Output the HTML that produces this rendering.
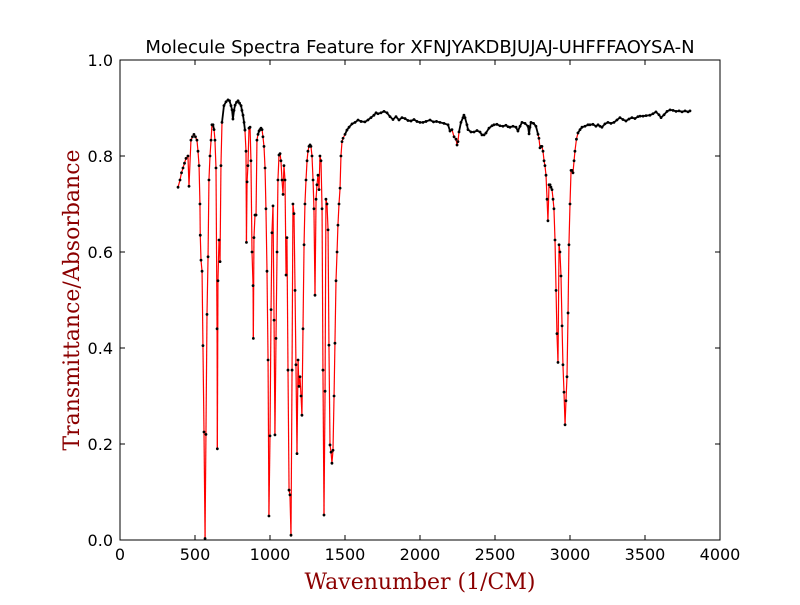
<!DOCTYPE html>
<html><head><meta charset="utf-8"><style>
body{margin:0;background:#fff}
svg text{font-family:"DejaVu Sans","Liberation Sans",sans-serif}
</style></head><body>
<svg width="800" height="600" viewBox="0 0 800 600">
<rect width="800" height="600" fill="#fff"/>
<g id="plot"></g>
<rect x="120" y="60" width="600" height="480" fill="none" stroke="#000" stroke-width="1"/>
<g id="axes"></g>
<text x="420" y="53" font-size="18" text-anchor="middle">Molecule Spectra Feature for XFNJYAKDBJUJAJ-UHFFFAOYSA-N</text>
<text x="420" y="589" font-size="22" fill="#8b0000" text-anchor="middle" style="font-family:'DejaVu Serif','Liberation Serif',serif">Wavenumber (1/CM)</text>
<text x="79" y="300" font-size="22" fill="#8b0000" text-anchor="middle" transform="rotate(-90 79 300)" style="font-family:'DejaVu Serif','Liberation Serif',serif">Transmittance/Absorbance</text>
</svg>
<script>
const xTicks=[0,500,1000,1500,2000,2500,3000,3500,4000];
const yTicks=[0.0,0.2,0.4,0.6,0.8,1.0];
const wavenumbers=[
387,400,410,420,430,440,453,460,473,483,
493,503,513,520,527,533,535,540,547,553,
560,567,573,580,587,593,600,607,613,620,
627,633,640,647,649,653,660,667,673,680,
693,707,720,730,740,747,753,760,767,777,
787,797,807,813,820,827,833,840,843,847,
853,860,867,873,880,887,889,893,900,907,
913,920,927,933,940,947,953,960,967,973,
980,987,993,1000,1007,1013,1020,1027,1033,1040,
1047,1053,1060,1067,1073,1080,1087,1093,1100,1107,
1113,1120,1127,1133,1140,1147,1153,1160,1167,1173,
1180,1187,1193,1200,1207,1213,1220,1227,1233,1240,
1247,1253,1260,1267,1273,1280,1287,1293,1300,1307,
1313,1320,1327,1333,1340,1347,1353,1360,1367,1373,
1380,1387,1393,1400,1407,1413,1420,1427,1433,1440,
1447,1453,1460,1467,1473,1480,1487,1500,1513,1527,
1547,1567,1587,1607,1633,1653,1673,1693,1707,1720,
1740,1760,1780,1800,1820,1840,1860,1880,1900,1920,
1940,1960,1980,2000,2020,2040,2067,2090,2110,2133,
2160,2187,2200,2213,2227,2240,2247,2253,2260,2273,
2287,2293,2300,2313,2320,2340,2360,2380,2400,2413,
2427,2440,2460,2480,2493,2513,2533,2553,2573,2587,
2600,2620,2640,2653,2667,2680,2700,2720,2727,2733,
2740,2757,2773,2787,2793,2800,2807,2813,2820,2827,
2833,2840,2847,2853,2860,2867,2873,2880,2887,2893,
2900,2907,2913,2920,2927,2933,2940,2947,2953,2960,
2967,2973,2980,2987,2993,3000,3007,3013,3020,3027,
3033,3043,3053,3067,3080,3100,3120,3133,3153,3173,
3187,3200,3213,3233,3253,3273,3293,3313,3333,3353,
3373,3393,3413,3433,3453,3467,3487,3507,3533,3553,
3573,3593,3607,3627,3647,3667,3687,3707,3727,3747,
3767,3787,3800];
const values=[
0.735,0.75,0.765,0.775,0.785,0.795,0.80,0.737,0.833,0.84,
0.845,0.84,0.833,0.81,0.78,0.70,0.635,0.583,0.56,0.405,
0.225,0.003,0.22,0.47,0.59,0.75,0.80,0.833,0.865,0.865,
0.855,0.833,0.775,0.44,0.19,0.54,0.625,0.58,0.78,0.87,
0.905,0.913,0.917,0.915,0.905,0.896,0.877,0.895,0.906,0.912,
0.915,0.91,0.905,0.895,0.885,0.87,0.854,0.81,0.62,0.746,
0.78,0.858,0.86,0.79,0.60,0.53,0.42,0.63,0.677,0.677,
0.833,0.845,0.852,0.855,0.858,0.855,0.84,0.82,0.775,0.69,
0.56,0.375,0.05,0.217,0.48,0.64,0.696,0.458,0.219,0.42,
0.60,0.75,0.802,0.805,0.79,0.75,0.72,0.78,0.75,0.552,
0.63,0.354,0.104,0.094,0.01,0.354,0.70,0.68,0.52,0.365,
0.18,0.375,0.32,0.34,0.30,0.26,0.44,0.615,0.70,0.75,
0.79,0.81,0.82,0.823,0.82,0.80,0.75,0.69,0.51,0.71,
0.74,0.76,0.73,0.80,0.79,0.69,0.354,0.052,0.31,0.71,
0.70,0.646,0.406,0.198,0.183,0.16,0.187,0.30,0.41,0.54,
0.60,0.656,0.70,0.733,0.80,0.83,0.837,0.845,0.854,0.86,
0.867,0.87,0.875,0.872,0.871,0.875,0.88,0.885,0.89,0.888,
0.89,0.893,0.89,0.882,0.876,0.882,0.875,0.88,0.878,0.874,
0.873,0.876,0.872,0.87,0.87,0.872,0.875,0.871,0.872,0.87,
0.868,0.865,0.852,0.855,0.84,0.835,0.823,0.83,0.85,0.87,
0.88,0.885,0.88,0.865,0.855,0.85,0.85,0.853,0.85,0.844,
0.844,0.848,0.858,0.863,0.865,0.866,0.863,0.862,0.864,0.861,
0.86,0.862,0.86,0.852,0.862,0.87,0.868,0.862,0.846,0.86,
0.87,0.868,0.862,0.845,0.837,0.817,0.82,0.82,0.81,0.79,
0.78,0.76,0.71,0.665,0.74,0.74,0.735,0.73,0.71,0.69,
0.625,0.52,0.43,0.37,0.615,0.60,0.55,0.446,0.365,0.308,
0.24,0.29,0.34,0.473,0.615,0.70,0.77,0.77,0.765,0.79,
0.81,0.835,0.848,0.855,0.86,0.862,0.865,0.865,0.866,0.862,
0.865,0.862,0.86,0.867,0.87,0.868,0.87,0.875,0.88,0.876,
0.873,0.877,0.88,0.878,0.882,0.883,0.883,0.884,0.885,0.888,
0.892,0.886,0.88,0.886,0.893,0.896,0.895,0.893,0.894,0.892,
0.894,0.892,0.894];
const NS='http://www.w3.org/2000/svg';
function sx(w){return 120+w*600/4000;}
function sy(v){return 540-v*480;}
const plot=document.getElementById('plot');
const axes=document.getElementById('axes');
function mk(t,a){const e=document.createElementNS(NS,t);for(const k in a)e.setAttribute(k,a[k]);return e;}
const n=Math.min(wavenumbers.length,values.length);
for(let i=0;i<n-1;i++){
  const hi=values[i]>0.84&&values[i+1]>0.84;
  const seg=mk('line',{x1:sx(wavenumbers[i]),y1:sy(values[i]),x2:sx(wavenumbers[i+1]),y2:sy(values[i+1]),stroke:hi?'#000':'#f00','stroke-width':hi?1.8:1.2});
  
  
  plot.appendChild(seg);
}
for(let i=0;i<n;i++){
  const p=mk('circle',{cx:sx(wavenumbers[i]),cy:sy(values[i]),r:1.4,fill:'#000'});
  
  
  plot.appendChild(p);
}
xTicks.forEach(t=>{
  const x=sx(t);
  const a=mk('line',{x1:x,y1:540,x2:x,y2:535,stroke:'#000'});
  
  
  axes.appendChild(a);
  const b=mk('line',{x1:x,y1:60,x2:x,y2:65,stroke:'#000'});
  
  
  axes.appendChild(b);
  const l=mk('text',{x:x,y:560,'font-size':16,'text-anchor':'middle'});
  l.textContent=t;
  
  
  axes.appendChild(l);
});
yTicks.forEach(t=>{
  const y=sy(t);
  const a=mk('line',{x1:120,y1:y,x2:125,y2:y,stroke:'#000'});
  
  
  axes.appendChild(a);
  const b=mk('line',{x1:720,y1:y,x2:715,y2:y,stroke:'#000'});
  
  
  axes.appendChild(b);
  const l=mk('text',{x:113,y:y+6,'font-size':16,'text-anchor':'end'});
  l.textContent=t.toFixed(1);
  
  
  axes.appendChild(l);
});
</script>
</body></html>
